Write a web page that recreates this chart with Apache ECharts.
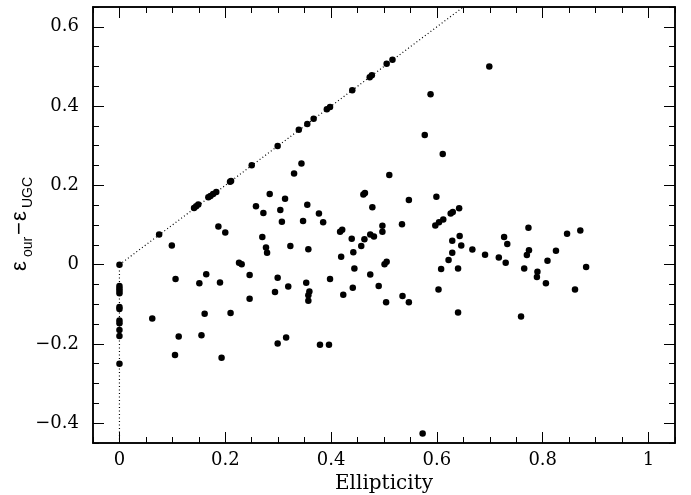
<!DOCTYPE html>
<html>
<head>
<meta charset="utf-8">
<script src="https://cdn.jsdelivr.net/npm/echarts@6/dist/echarts.min.js"></script>
<style>
  html, body { margin: 0; padding: 0; background: #fff; }
  #chart_main { width: 691px; height: 495px; }
</style>
</head>
<body>
<div id="chart_main"></div>
<script>
// galaxies sitting on the x = 0 edge
var zeroX = [0, 0, 0, 0, 0, 0, 0, 0, 0, 0, 0, 0];
var zeroY = [0, -0.054, -0.060, -0.066, -0.072, -0.107, -0.112, -0.141, -0.148, -0.165, -0.180, -0.250];

// galaxies on the y = x line
var lineX = [0.075, 0.141, 0.145, 0.149, 0.168, 0.172, 0.177, 0.183, 0.209, 0.211, 0.250, 0.299,
    0.339, 0.355, 0.367, 0.392, 0.398, 0.440, 0.473, 0.477, 0.505, 0.516];
var lineY = [0.076, 0.143, 0.147, 0.152, 0.170, 0.173, 0.178, 0.183, 0.209, 0.211, 0.251, 0.299,
    0.340, 0.355, 0.368, 0.392, 0.398, 0.440, 0.473, 0.478, 0.507, 0.517];

// the rest
var restX = [0.699, 0.588, 0.577, 0.611, 0.344, 0.330, 0.510, 0.284, 0.464, 0.461, 0.547, 0.599,
    0.313, 0.355, 0.258, 0.478, 0.642, 0.630, 0.626, 0.304, 0.272, 0.377, 0.612, 0.604,
    0.597, 0.307, 0.347, 0.385, 0.534, 0.497, 0.497, 0.187, 0.421, 0.417, 0.773, 0.871,
    0.200, 0.846, 0.474, 0.481, 0.643, 0.270, 0.727, 0.439, 0.463, 0.629, 0.733, 0.099,
    0.457, 0.323, 0.646, 0.277, 0.357, 0.667, 0.774, 0.825, 0.442, 0.279, 0.629, 0.691,
    0.770, 0.419, 0.717, 0.622, 0.809, 0.505, 0.226, 0.730, 0.231, 0.501, 0.444, 0.608,
    0.640, 0.765, 0.882, 0.790, 0.164, 0.474, 0.246, 0.789, 0.299, 0.106, 0.398, 0.190,
    0.353, 0.151, 0.806, 0.490, 0.319, 0.441, 0.603, 0.861, 0.359, 0.294, 0.423, 0.357,
    0.535, 0.246, 0.357, 0.504, 0.547, 0.640, 0.210, 0.161, 0.759, 0.062, 0.155, 0.112,
    0.315, 0.299, 0.379, 0.396, 0.105, 0.193, 0.573];
var restY = [0.500, 0.430, 0.327, 0.279, 0.255, 0.230, 0.226, 0.178, 0.181, 0.177, 0.163, 0.171,
    0.166, 0.151, 0.147, 0.145, 0.142, 0.133, 0.129, 0.138, 0.130, 0.129, 0.114, 0.107,
    0.099, 0.108, 0.110, 0.107, 0.102, 0.098, 0.083, 0.096, 0.088, 0.083, 0.093, 0.086,
    0.081, 0.078, 0.076, 0.071, 0.072, 0.070, 0.070, 0.065, 0.064, 0.060, 0.052, 0.048,
    0.047, 0.047, 0.048, 0.043, 0.039, 0.038, 0.036, 0.035, 0.031, 0.030, 0.030, 0.025,
    0.024, 0.020, 0.018, 0.012, 0.010, 0.007, 0.005, 0.005, 0.001, 0.001, -0.010, -0.011,
    -0.010, -0.010, -0.006, -0.018, -0.024, -0.025, -0.026, -0.031, -0.033, -0.036, -0.036, -0.045,
    -0.046, -0.047, -0.047, -0.054, -0.055, -0.058, -0.063, -0.063, -0.068, -0.069, -0.076, -0.077,
    -0.079, -0.086, -0.091, -0.095, -0.095, -0.121, -0.122, -0.124, -0.131, -0.136, -0.178, -0.181,
    -0.184, -0.199, -0.202, -0.202, -0.228, -0.235, -0.426];

// dotted guide: x = 0 below zero, y = x above
var guideX = [0, 0, 0.65];
var guideY = [-0.45, 0, 0.65];

var xMajor = [0, 0.2, 0.4, 0.6, 0.8, 1];
var yMajor = [-0.4, -0.2, 0, 0.2, 0.4, 0.6];

function pairs(xs, ys) {
    var out = [];
    for (var i = 0; i < xs.length; i++) out.push([xs[i], ys[i]]);
    return out;
}

var points = pairs(zeroX, zeroY).concat(pairs(lineX, lineY), pairs(restX, restY));

function makeAxis(position, range, major, isMajor, withLabel, margin) {
    var ax = {
        type: 'value',
        position: position,
        min: range[0],
        max: range[1],
        interval: 0.05,
        axisLine: { show: true, onZero: false, lineStyle: { color: '#000', width: 1.5 } },
        axisTick: {
            show: true,
            inside: true,
            length: isMajor ? 11 : 6,
            lineStyle: { color: '#000', width: 1 }
        },
        splitLine: { show: false },
        axisLabel: { show: false }
    };
    if (isMajor) ax.axisTick.customValues = major;
    if (withLabel) {
        ax.axisLabel = {
            show: true,
            customValues: major,
            margin: margin,
            color: '#000',
            fontFamily: 'DejaVu Serif',
            fontSize: 18,
            formatter: function (v) {
                return String(Math.round(v * 10) / 10).replace('-', '\u2212');
            }
        };
    }
    return ax;
}

var xr = [-0.05, 1.05];
var yr = [-0.45, 0.65];

var xAxes = [
    makeAxis('bottom', xr, xMajor, false, true, 8),
    makeAxis('bottom', xr, xMajor, true, false),
    makeAxis('top', xr, xMajor, false, false),
    makeAxis('top', xr, xMajor, true, false)
];
xAxes[0].name = 'Ellipticity';
xAxes[0].nameLocation = 'middle';
xAxes[0].nameGap = 26;
xAxes[0].nameTextStyle = { color: '#000', fontFamily: 'DejaVu Serif', fontSize: 20 };

var yAxes = [
    makeAxis('left', yr, yMajor, false, true, 14),
    makeAxis('left', yr, yMajor, true, false),
    makeAxis('right', yr, yMajor, false, false),
    makeAxis('right', yr, yMajor, true, false)
];

var sans = 'Liberation Sans';
var myChart = echarts.init(document.getElementById('chart_main'));

var option = {
    animation: false,
    grid: { left: 93, right: 16, top: 7, bottom: 52, outerBoundsMode: 'none' },
    xAxis: xAxes,
    yAxis: yAxes,
    graphic: [{
        type: 'group',
        x: 20,
        y: 271,
        rotation: Math.PI / 2,
        children: [
            { type: 'text', x: 0, y: 0, style: { text: '\u03b5', fontFamily: sans, fontSize: 22, fill: '#000', verticalAlign: 'middle' } },
            { type: 'text', x: 14, y: 8, style: { text: 'our', fontFamily: sans, fontSize: 14, fill: '#000', verticalAlign: 'middle' } },
            { type: 'text', x: 36, y: 0, style: { text: '\u2212', fontFamily: sans, fontSize: 22, fill: '#000', verticalAlign: 'middle' } },
            { type: 'text', x: 50, y: 0, style: { text: '\u03b5', fontFamily: sans, fontSize: 22, fill: '#000', verticalAlign: 'middle' } },
            { type: 'text', x: 63, y: 8, style: { text: 'UGC', fontFamily: sans, fontSize: 14, fill: '#000', verticalAlign: 'middle' } }
        ]
    }],
    series: [
        {
            type: 'line',
            data: pairs(guideX, guideY),
            showSymbol: false,
            silent: true,
            z: 1,
            lineStyle: { color: '#000', width: 1.2, type: [1, 2.5] }
        },
        {
            type: 'scatter',
            data: points,
            symbol: 'circle',
            symbolSize: 6.5,
            silent: true,
            z: 2,
            itemStyle: { color: '#000', opacity: 1 }
        }
    ]
};

myChart.setOption(option);
</script>
</body>
</html>
